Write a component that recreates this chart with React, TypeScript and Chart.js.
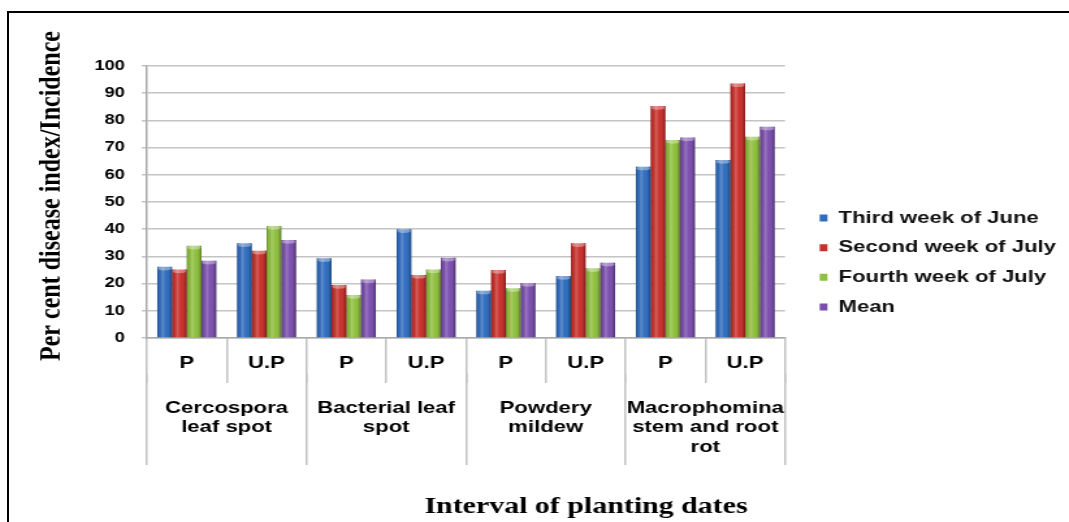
import React, { useEffect, useRef } from 'react';
import { Chart, registerables } from 'chart.js';

Chart.register(...registerables);

// ---- data ----
const subCategories = ['P', 'U.P', 'P', 'U.P', 'P', 'U.P', 'P', 'U.P'];
const diseaseGroups = [
  ['Cercospora', 'leaf spot'],
  ['Bacterial leaf', 'spot'],
  ['Powdery', 'mildew'],
  ['Macrophomina', 'stem and root', 'rot'],
];
const seriesNames = ['Third week of June', 'Second week of July', 'Fourth week of July', 'Mean'];
const thirdWeekJune = [26.2, 34.8, 29.3, 40, 17.4, 22.8, 63, 65.4];
const secondWeekJuly = [25.2, 32.1, 19.5, 23.2, 25, 34.8, 85.3, 93.6];
const fourthWeekJuly = [33.9, 41.2, 15.8, 25.2, 18.3, 25.6, 72.8, 74];
const meanValues = [28.4, 36, 21.5, 29.5, 20.2, 27.7, 73.7, 77.7];
const yMin = 0;
const yMax = 100;
const yStep = 10;
const yTitle = '  Per cent disease index/Incidence';
const xTitle = 'Interval of planting dates     ';

const seriesColors = ['#2f6dbf', '#c9302c', '#8fc03e', '#7b4fae'];

// drawing surface (stretched horizontally like the reference)
const SX = 1.3;
const CW = 815;
const CH = 509;

const sansBold = (size: number, lineHeight = 1.2) => ({
  family: '"Liberation Sans", Arial, sans-serif',
  size,
  weight: 'bold' as const,
  lineHeight,
});
const serifBold = (size: number) => ({
  family: '"Liberation Serif", "Times New Roman", serif',
  size,
  weight: 'bold' as const,
  lineHeight: 1.2,
});

// cylinder-like shading over each bar (reads positions from the bar elements)
const cylinderShade = {
  id: 'cylinderShade',
  afterDatasetsDraw(chart: any) {
    const ctx = chart.ctx;
    chart.data.datasets.forEach((_: any, di: number) => {
      const meta = chart.getDatasetMeta(di);
      meta.data.forEach((bar: any) => {
        const { x, y, base, width } = bar.getProps(['x', 'y', 'base', 'width'], true);
        const l = x - width / 2;
        const g = ctx.createLinearGradient(l, 0, l + width, 0);
        g.addColorStop(0, 'rgba(0,0,0,0.30)');
        g.addColorStop(0.12, 'rgba(0,0,0,0.05)');
        g.addColorStop(0.35, 'rgba(255,255,255,0.22)');
        g.addColorStop(0.6, 'rgba(255,255,255,0.0)');
        g.addColorStop(0.85, 'rgba(0,0,0,0.12)');
        g.addColorStop(1, 'rgba(0,0,0,0.38)');
        ctx.save();
        ctx.fillStyle = g;
        ctx.fillRect(l, Math.min(y, base), width, Math.abs(base - y));
        ctx.beginPath();
        ctx.ellipse(x, y + 1.5, width / 2 - 0.5, 2.2, 0, 0, Math.PI * 2);
        ctx.fillStyle = 'rgba(255,255,255,0.35)';
        ctx.fill();
        ctx.restore();
      });
    });
  },
};

export default function App() {
  const canvasRef = useRef<HTMLCanvasElement | null>(null);

  useEffect(() => {
    const canvas = canvasRef.current;
    if (!canvas) return;
    const seriesData = [thirdWeekJune, secondWeekJuly, fourthWeekJuly, meanValues];
    const chart = new Chart(canvas, {
      type: 'bar',
      data: {
        labels: subCategories,
        datasets: seriesNames.map((name, i) => ({
          label: name,
          data: seriesData[i],
          backgroundColor: seriesColors[i],
          borderWidth: 0,
          categoryPercentage: 0.74,
          barPercentage: 1.0,
          xAxisID: 'x',
          yAxisID: 'y',
        })),
      },
      options: {
        responsive: false,
        animation: false,
        devicePixelRatio: 1,
        layout: { padding: { top: 0, left: 0, right: 0, bottom: 10 } },
        scales: {
          x: {
            type: 'category',
            position: 'bottom',
            weight: 1,
            offset: true,
            grid: {
              display: true,
              offset: true,
              drawOnChartArea: false,
              drawTicks: true,
              tickLength: 45,
              color: '#c2c2c2',
              lineWidth: 1.5,
            },
            border: { display: true, color: '#a9a9a9', width: 1.5 },
            ticks: {
              font: sansBold(17, 1.15),
              color: '#000',
              padding: -29,
              autoSkip: false,
              maxRotation: 0,
              minRotation: 0,
            },
            afterFit: (s: any) => {
              s.height = 36;
            },
          },
          x2: {
            type: 'category',
            position: 'bottom',
            weight: 2,
            labels: diseaseGroups as any,
            offset: true,
            grid: {
              display: true,
              offset: true,
              drawOnChartArea: false,
              drawTicks: true,
              tickLength: 91,
              color: '#c2c2c2',
              lineWidth: 1.5,
            },
            border: { display: false },
            ticks: {
              font: sansBold(17, 1.15),
              color: '#000',
              padding: -66.8,
              autoSkip: false,
              maxRotation: 0,
              minRotation: 0,
            },
            title: {
              display: true,
              text: xTitle,
              align: 'end',
              color: '#000',
              font: serifBold(23),
              padding: { top: 34.75, bottom: -8.4 },
            },
            afterFit: (s: any) => {
              s.height = 138;
            },
          },
          y: {
            type: 'linear',
            position: 'left',
            min: yMin,
            max: yMax,
            ticks: {
              stepSize: yStep,
              font: sansBold(14),
              color: '#000',
              padding: 13,
            },
            grid: {
              color: '#c4c4c4',
              lineWidth: 1.5,
              tickLength: 4,
            },
            border: { display: true, color: '#a9a9a9', width: 1.5 },
            title: {
              display: true,
              text: yTitle,
              color: '#000',
              font: serifBold(24),
              padding: { top: 18, bottom: 0 },
            },
            afterFit: (s: any) => {
              s.width = 106;
            },
          },
          pad: {
            type: 'linear',
            position: 'right',
            display: true,
            grid: { display: false, drawTicks: false },
            border: { display: false },
            ticks: { display: false },
            afterFit: (s: any) => {
              s.width = 14;
            },
          },
        },
        plugins: {
          title: {
            display: true,
            text: ' ',
            font: { size: 10, lineHeight: 1 },
            padding: { top: 43, bottom: 0 },
          },
          legend: {
            display: true,
            position: 'right',
            align: 'center',
            maxWidth: 230,
            labels: {
              boxWidth: 6,
              boxHeight: 7,
              padding: 12.6,
              color: '#111',
              font: sansBold(17),
            },
          },
          tooltip: { enabled: false },
        },
      } as any,
      plugins: [cylinderShade],
    });
    return () => chart.destroy();
  }, []);

  return (
    <div
      style={{
        position: 'fixed',
        left: 0,
        top: 0,
        width: 1069,
        height: 522,
        overflow: 'hidden',
        background: '#fff',
      }}
    >
      <div
        style={{
          position: 'absolute',
          left: 7,
          top: 11,
          width: 1200,
          height: 700,
          borderTop: '2px solid #000',
          borderLeft: '2px solid #000',
        }}
      />
      <canvas
        ref={canvasRef}
        width={CW}
        height={CH}
        style={{
          position: 'absolute',
          left: 9,
          top: 13,
          width: `${CW * SX}px`,
          height: `${CH}px`,
        }}
      />
    </div>
  );
}
